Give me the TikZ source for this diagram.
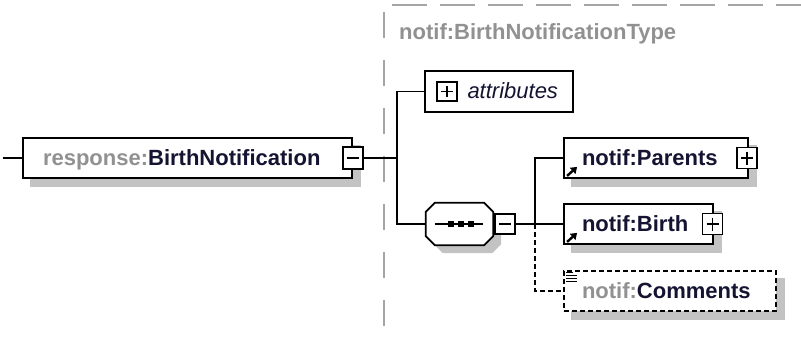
\documentclass[tikz,border=0pt]{standalone}
\usepackage{fontspec}
\setmainfont{Liberation Sans}
\usetikzlibrary{calc,backgrounds,arrows.meta}

\definecolor{nametext}{RGB}{20,20,50}
\definecolor{prefixgray}{RGB}{145,145,145}
\definecolor{shadowgray}{RGB}{195,195,195}
\definecolor{framegray}{RGB}{165,165,165}

\newcommand{\xsfont}{\fontsize{22}{26}\selectfont}

\tikzset{
  elembox/.style={draw, line width=1.8, fill=white, minimum height=40, inner xsep=18, inner ysep=0,
    text height=18, text depth=4, align=left, font=\xsfont\bfseries, text=nametext},
  optbox/.style={elembox, dash pattern=on 5 off 3},
  togglebox/.style={draw, line width=1.8, fill=white, minimum width=20, minimum height=21, inner sep=0},
  minusbox/.style={togglebox, path picture={
    \draw[line width=1.6, shorten <=4, shorten >=4] (path picture bounding box.west) -- (path picture bounding box.east);}},
  plusbox/.style={togglebox, path picture={
    \draw[line width=1.6, shorten <=4, shorten >=4] (path picture bounding box.west) -- (path picture bounding box.east);
    \draw[line width=1.6, shorten <=4, shorten >=4] (path picture bounding box.north) -- (path picture bounding box.south);}},
  wire/.style={line width=1.8},
  reficon/.style={line width=2.4, -{Triangle[length=6,width=8]}},
}

\begin{document}
\begin{tikzpicture}[x=1pt,y=1pt,yscale=-1]
\useasboundingbox (0,0) rectangle (801,338);

% type frame
\draw[framegray, line width=2, dash pattern=on 35 off 13, dash phase=40] (384,5) -- (801,5);
\draw[framegray, line width=2, dash pattern=on 26 off 22, dash phase=41] (384,5) -- (384,338);
\node[anchor=base west, inner sep=0, font=\xsfont\bfseries, text=prefixgray] (typelabel) at (399,39) {notif:BirthNotificationType};

% element
\node[elembox, inner xsep=20, text width=289] (resp) at (187.5,158) {\textcolor{prefixgray}{response:}BirthNotification};
\node[minusbox, minimum height=22] (respminus) at (353,158) {};

% attributes
\node[draw, line width=1.8, fill=white, minimum height=41, inner xsep=15, inner ysep=0, text width=118,
  text height=18, text depth=4, align=right, font=\xsfont\itshape, text=nametext] (attr) at (499,91.5) {attributes};
\node[plusbox, minimum height=19] (attrplus) at (447,91.5) {};

% sequence
\node[minimum width=67, minimum height=42, inner sep=0] (seq) at (459.5,224) {};
\draw[line width=1.8, fill=white] ($(seq.north west)+(9,0)$) -- ($(seq.north east)+(-9,0)$) -- ($(seq.north east)+(0,9)$)
  -- ($(seq.south east)+(0,-9)$) -- ($(seq.south east)+(-9,0)$) -- ($(seq.south west)+(9,0)$)
  -- ($(seq.south west)+(0,-9)$) -- ($(seq.north west)+(0,9)$) -- cycle;
\draw[line width=1.5] ($(seq.west)+(9,0)$) -- ($(seq.east)+(-10,0)$);
\foreach \dx in {-9,1,11}
  \fill ($(seq.center)+(\dx,0)$) +(-3,-3) rectangle +(3,3);
\node[minusbox, minimum height=20] (seqminus) at (505,224) {};

% children
\node[elembox, text width=148] (parents) at (656,158) {notif:Parents};
\node[plusbox] (parentsplus) at (747,158) {};
\draw[reficon] ($(parents.south west)+(4,-3)$) -- ++(10,-9);

\node[elembox, text width=113] (birth) at (638.5,224) {notif:Birth};
\node[plusbox] (birthplus) at (712.5,224) {};
\draw[reficon] ($(birth.south west)+(4,-3)$) -- ++(10,-9);

\node[optbox, text width=176] (comments) at (670,291) {\textcolor{prefixgray}{notif:}Comments};
\foreach \dy/\len in {2/7,5/11,8/11,11/11}
  \draw[line width=1] ($(comments.north west)+(3,\dy)$) -- ++(\len,0);

% shadows
\begin{scope}[on background layer]
  \foreach \n in {resp,parents,birth,comments}
    \fill[shadowgray] ($(\n.north west)+(8,8)$) rectangle ($(\n.south east)+(8,8)$);
  \fill[shadowgray] ($(seq.north west)+(17,8)$) -- ($(seq.north east)+(-1,8)$) -- ($(seq.north east)+(8,17)$)
    -- ($(seq.south east)+(8,-1)$) -- ($(seq.south east)+(-1,8)$) -- ($(seq.south west)+(17,8)$)
    -- ($(seq.south west)+(8,-1)$) -- ($(seq.north west)+(8,17)$) -- cycle;
\end{scope}

% connectors
\coordinate (inlet) at (3,158);
\coordinate (split1) at (397,158);
\coordinate (split2) at (535,224);
\draw[wire] (inlet) -- (resp.west);
\draw[wire] (respminus.east) -- (split1);
\draw[wire] (attr.west) -| (split1) |- (seq.west);
\draw[wire] (seqminus.east) -- (split2);
\draw[wire] (parents.west) -| (split2) -- (birth.west);
\draw[wire, dash pattern=on 5 off 3] (split2) |- (comments.west);

\end{tikzpicture}
\end{document}
